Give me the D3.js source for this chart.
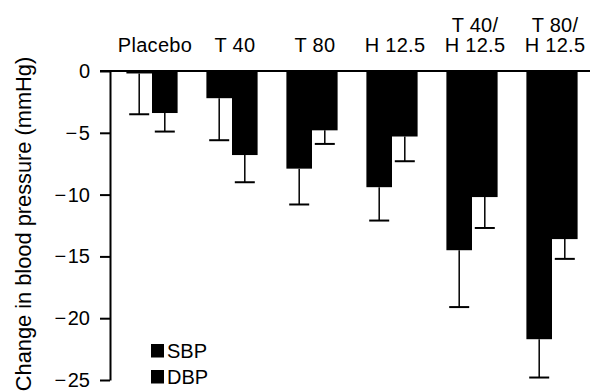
<!DOCTYPE html>
<html>
<head>
<meta charset="utf-8">
<script src="https://cdn.jsdelivr.net/npm/d3@7"></script>
<style>
body { margin: 0; background: #fff; }
svg text { font-family: "Liberation Sans", Arial, sans-serif; fill: #000; }
</style>
</head>
<body>
<svg></svg>
<script>
var width = 591;
var height = 391;

// data
var groups = ["Placebo", "T 40", "T 80", "H 12.5", "T 40/H 12.5", "T 80/H 12.5"];
var groupLines = [["Placebo"], ["T 40"], ["T 80"], ["H 12.5"], ["T 40/", "H 12.5"], ["T 80/", "H 12.5"]];
var series = ["SBP", "DBP"];
var sbp = [-0.2, -2.2, -7.9, -9.4, -14.5, -21.7];
var sbpErr = [-3.5, -5.6, -10.8, -12.1, -19.1, -24.8];
var dbp = [-3.4, -6.8, -4.8, -5.3, -10.2, -13.6];
var dbpErr = [-4.9, -9.0, -5.9, -7.3, -12.7, -15.2];
var yTicks = [0, -5, -10, -15, -20, -25];

var rows = [];
groups.forEach(function(g, i){
    rows.push({group: g, key: "SBP", value: sbp[i], err: sbpErr[i]});
    rows.push({group: g, key: "DBP", value: dbp[i], err: dbpErr[i]});
});

var xScale = d3.scaleBand()
                .domain(groups)
                .range([112, 592])
                .paddingInner(0.36)
                .paddingOuter(0.18);

var subScale = d3.scaleBand()
                .domain(series)
                .range([0, xScale.bandwidth()]);

var yScale = d3.scaleLinear()
                .domain([-25, 0])
                .range([380, 71]);

var svg = d3.select("svg")
    .attr("width", width)
    .attr("height", height);

// bars
svg.selectAll("rect.bar")
  .data(rows)
  .enter()
  .append("rect")
    .attr("class", "bar")
    .attr("x", d => xScale(d.group) + subScale(d.key))
    .attr("y", yScale(0))
    .attr("width", subScale.bandwidth())
    .attr("height", d => yScale(d.value) - yScale(0))
    .attr("fill", "#000");

// error bars
var cx = d => xScale(d.group) + subScale(d.key) + subScale.bandwidth() / 2;

svg.selectAll("line.whisker")
  .data(rows)
  .enter()
  .append("line")
    .attr("x1", cx)
    .attr("x2", cx)
    .attr("y1", d => yScale(d.value))
    .attr("y2", d => yScale(d.err))
    .attr("stroke", "#000")
    .attr("stroke-width", 1.5);

svg.selectAll("line.cap")
  .data(rows)
  .enter()
  .append("line")
    .attr("x1", d => cx(d) - 10)
    .attr("x2", d => cx(d) + 10)
    .attr("y1", d => yScale(d.err))
    .attr("y2", d => yScale(d.err))
    .attr("stroke", "#000")
    .attr("stroke-width", 2);

// y axis
var yAxis = d3.axisLeft(yScale)
                .tickValues(yTicks)
                .tickSize(10)
                .tickPadding(10)
                .tickSizeOuter(0)
                .tickFormat(d => d < 0 ? "\u2212\u200A" + Math.abs(d) : d);

var gy = svg.append("g")
    .attr("transform", "translate(110,0)")
    .call(yAxis);
gy.select(".domain").attr("stroke-width", 2);
gy.selectAll(".tick line").attr("stroke-width", 2);
gy.selectAll(".tick text")
    .style("font-size", "20px")
    .style("font-family", "'Liberation Sans', Arial, sans-serif");

// zero line across the top
svg.append("line")
    .attr("x1", 100)
    .attr("x2", 590)
    .attr("y1", yScale(0))
    .attr("y2", yScale(0))
    .attr("stroke", "#000")
    .attr("stroke-width", 2);

// group labels above the bars
var labels = svg.selectAll("text.group")
  .data(groups)
  .enter()
  .append("text")
    .attr("class", "group")
    .attr("x", d => xScale(d) + xScale.bandwidth() / 2 + 3)
    .attr("y", 52)
    .style("text-anchor", "middle")
    .style("font-size", "20px")
    .style("letter-spacing", "0.3px");

labels.each(function(d, i){
    var lines = groupLines[i];
    var t = d3.select(this);
    lines.forEach(function(line, k){
        t.append("tspan")
            .attr("x", t.attr("x"))
            .attr("y", 52 - (lines.length - 1 - k) * 20.5)
            .text(line);
    });
});

// y axis title
svg.append("text")
    .attr("transform", "rotate(-90)")
    .attr("x", -224)
    .attr("y", 31)
    .style("text-anchor", "middle")
    .style("font-size", "21.8px")
    .text("Change in blood pressure (mmHg)");

// legend
var legend = svg.selectAll("g.legend")
  .data(series)
  .enter()
  .append("g")
    .attr("transform", (d, i) => "translate(151," + (344 + i * 26) + ")");

legend.append("rect")
    .attr("width", 13)
    .attr("height", 13.5)
    .attr("fill", "#000");

legend.append("text")
    .attr("x", 16)
    .attr("y", 13.5)
    .style("font-size", "20px")
    .text(d => d);
</script>
</body>
</html>
